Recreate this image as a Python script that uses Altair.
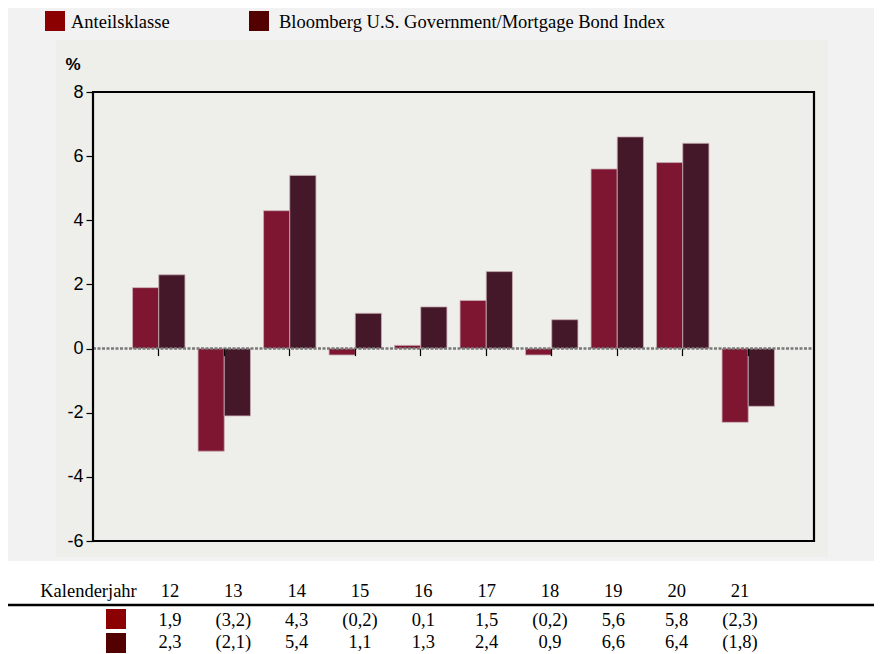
import altair as alt
import pandas as pd

# ---- data ----
years = ["12", "13", "14", "15", "16", "17", "18", "19", "20", "21"]
series = ["Anteilsklasse", "Bloomberg U.S. Government/Mortgage Bond Index"]
share_class = [1.9, -3.2, 4.3, -0.2, 0.1, 1.5, -0.2, 5.6, 5.8, -2.3]
index_vals = [2.3, -2.1, 5.4, 1.1, 1.3, 2.4, 0.9, 6.6, 6.4, -1.8]
y_ticks = [-6, -4, -2, 0, 2, 4, 6, 8]
row_label = "Kalenderjahr"
unit_label = "%"

bar_colors = ["#7e1631", "#441729"]
key_colors = ["#8b0000", "#520000"]

SERIF = "Liberation Serif"
SANS = "Liberation Sans Narrow, Liberation Sans"
W, H = 721, 449


def fmt(v):
    s = f"{abs(v):.1f}".replace(".", ",")
    return f"({s})" if v < 0 else s


rows = []
for s, vals in zip(series, [share_class, index_vals]):
    for y, v in zip(years, vals):
        rows.append({"year": y, "series": s, "value": v})
bars_df = pd.DataFrame(rows)

one = pd.DataFrame({"k": [0]})

years_df = pd.DataFrame({"i": list(range(len(years))), "t": years})
row1_df = pd.DataFrame({"i": list(range(len(years))), "t": [fmt(v) for v in share_class]})
row2_df = pd.DataFrame({"i": list(range(len(years))), "t": [fmt(v) for v in index_vals]})

# ---- backgrounds ----
outer = alt.Chart(one).mark_rect(color="#f2f2f2").encode(
    x=alt.value(-85), x2=alt.value(790), y=alt.value(-84), y2=alt.value(469))
inner = alt.Chart(one).mark_rect(color="#eeeeea").encode(
    x=alt.value(-37), x2=alt.value(735), y=alt.value(-52), y2=alt.value(465))

# ---- bars ----
bars = alt.Chart(bars_df).mark_bar(stroke="#c9aeb5", strokeWidth=0.8).encode(
    x=alt.X("year:N", sort=years,
            scale=alt.Scale(paddingInner=0.2, paddingOuter=0.604),
            axis=alt.Axis(title=None, labels=False, domain=False, ticks=True,
                          tickSize=7, tickColor="black", tickWidth=1.2,
                          offset=-192.4, grid=False, zindex=2)),
    xOffset=alt.XOffset("series:N", sort=series,
                        scale=alt.Scale(paddingInner=0, paddingOuter=0)),
    y=alt.Y("value:Q", scale=alt.Scale(domain=[-6, 8], nice=False, zero=False),
            axis=alt.Axis(values=y_ticks, title=None, domain=False, grid=False,
                          tickSize=7, tickColor="black", tickWidth=1.2,
                          labelExpr="replace(datum.label, '\u2212', '-')",
                          labelFont=SANS, labelFontSize=18, labelColor="black",
                          labelPadding=3, zindex=2)),
    color=alt.Color("series:N", sort=series,
                    scale=alt.Scale(domain=series, range=bar_colors), legend=None),
)

zero_rule = alt.Chart(one).mark_rule(color="#7a7a7a", strokeWidth=2.5, strokeDash=[3, 1.5]).encode(
    y=alt.datum(0), x=alt.value(0), x2=alt.value(W))

frame = alt.Chart(one).mark_rect(filled=False, stroke="black", strokeWidth=2.2).encode(
    x=alt.value(0), x2=alt.value(W), y=alt.value(0), y2=alt.value(H))

pct = alt.Chart(one).mark_text(text=unit_label, font=SANS, fontSize=17, fontWeight="bold",
                               color="black", align="center", baseline="middle").encode(
    x=alt.value(-20), y=alt.value(-27))

# ---- legend ----
leg1_sq = alt.Chart(one).mark_square(size=400, color=key_colors[0], opacity=1).encode(
    x=alt.value(-38), y=alt.value(-71))
leg1_tx = alt.Chart(one).mark_text(text=series[0], font=SERIF, fontSize=18.5, color="black",
                                   align="left", baseline="middle").encode(
    x=alt.value(-22), y=alt.value(-70))
leg2_sq = alt.Chart(one).mark_square(size=400, color=key_colors[1], opacity=1).encode(
    x=alt.value(166), y=alt.value(-71))
leg2_tx = alt.Chart(one).mark_text(text=series[1], font=SERIF, fontSize=18.5, color="black",
                                   align="left", baseline="middle").encode(
    x=alt.value(186), y=alt.value(-70))

# ---- table ----
tx_scale = alt.Scale(domain=[0, 9], range=[77, 647])

tab_label = alt.Chart(one).mark_text(text=row_label, font=SERIF, fontSize=18.5, color="black",
                                     align="center", baseline="middle").encode(
    x=alt.value(-4.5), y=alt.value(499))
tab_years = alt.Chart(years_df).mark_text(font=SERIF, fontSize=18.5, color="black",
                                          align="center", baseline="middle").encode(
    x=alt.X("i:Q", scale=tx_scale, axis=None), y=alt.value(499), text="t:N")
tab_line = alt.Chart(one).mark_rule(color="black", strokeWidth=2.5).encode(
    x=alt.value(-85), x2=alt.value(790), y=alt.value(513))
tab_sq1 = alt.Chart(one).mark_square(size=400, color=key_colors[0], opacity=1).encode(
    x=alt.value(23), y=alt.value(527))
tab_sq2 = alt.Chart(one).mark_square(size=400, color=key_colors[1], opacity=1).encode(
    x=alt.value(23), y=alt.value(551))
tab_row1 = alt.Chart(row1_df).mark_text(font=SERIF, fontSize=18.5, color="black",
                                        align="center", baseline="middle").encode(
    x=alt.X("i:Q", scale=tx_scale, axis=None), y=alt.value(528), text="t:N")
tab_row2 = alt.Chart(row2_df).mark_text(font=SERIF, fontSize=18.5, color="black",
                                        align="center", baseline="middle").encode(
    x=alt.X("i:Q", scale=tx_scale, axis=None), y=alt.value(550), text="t:N")

chart = alt.layer(
    outer, inner, bars, zero_rule, frame, pct,
    leg1_sq, leg1_tx, leg2_sq, leg2_tx,
    tab_label, tab_years, tab_line, tab_sq1, tab_sq2, tab_row1, tab_row2,
).resolve_scale(x="independent").properties(
    width=W, height=H,
    autosize="none",
    padding={"left": 85, "top": 84, "right": 60, "bottom": 113},
    background="white",
).configure_view(stroke=None)

chart.save("out.html", embed_options={"renderer": "svg", "actions": False})
